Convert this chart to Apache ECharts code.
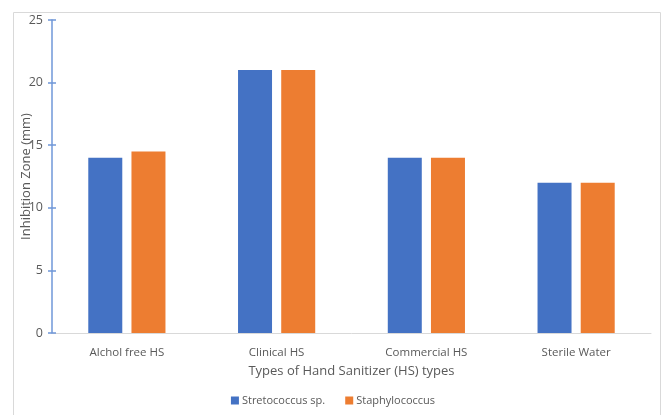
<!DOCTYPE html>
<html>
<head>
<meta charset="utf-8">
<script src="https://cdn.jsdelivr.net/npm/echarts@6/dist/echarts.min.js"></script>
<style>
  html, body { margin: 0; padding: 0; background: #fff; }
  #chart { width: 666px; height: 415px; }
</style>
</head>
<body>
<div id="chart"></div>
<script>
// Hand sanitizer types and measured inhibition zones (mm)
const categories = ['Alchol free HS', 'Clinical HS', 'Commercial HS', 'Sterile Water'];
const streptococcus = [14, 21, 14, 12];
const staphylococcus = [14.5, 21, 14, 12];
const seriesNames = ['Stretococcus sp.', 'Staphylococcus'];

const FONT = '"Open Sans", "Liberation Sans", sans-serif';
const TEXT = '#595959';

const chart = echarts.init(document.getElementById('chart'));
chart.setOption({
  animation: false,
  textStyle: { fontFamily: FONT },
  graphic: [{
    type: 'rect',
    shape: { x: 13.5, y: 12.5, width: 647, height: 420 },
    style: { fill: 'none', stroke: '#d9d9d9', lineWidth: 1 },
    silent: true
  }],
  grid: { left: 52, right: 15, top: 20, bottom: 82 },
  legend: {
    data: seriesNames,
    bottom: 4,
    left: 'center',
    itemWidth: 8,
    itemHeight: 8,
    itemGap: 20,
    icon: 'rect',
    textStyle: { color: TEXT, fontSize: 11, fontFamily: FONT, padding: [0, 0, 0, -2] }
  },
  xAxis: {
    type: 'category',
    data: categories,
    name: 'Types of Hand Sanitizer (HS) types',
    nameLocation: 'middle',
    nameGap: 32,
    nameTextStyle: { color: TEXT, fontSize: 13, fontFamily: FONT },
    axisLine: { lineStyle: { color: '#d9d9d9', width: 1 } },
    axisTick: { show: false },
    axisLabel: { color: TEXT, fontSize: 11.5, margin: 14, fontFamily: FONT }
  },
  yAxis: [{
    type: 'value',
    min: 0,
    max: 25,
    interval: 5,
    name: 'Inhibition Zone (mm)',
    nameLocation: 'middle',
    nameGap: 19,
    nameMoveOverlap: false,
    nameTextStyle: { color: TEXT, fontSize: 13, fontFamily: FONT },
    axisLine: { show: true, lineStyle: { color: '#6f97d8', width: 1.5 } },
    axisTick: { show: true, length: 4, lineStyle: { color: '#6f97d8', width: 1.5 } },
    axisLabel: { color: TEXT, fontSize: 12.5, margin: 9, fontFamily: FONT },
    splitLine: { show: false }
  }, {
    type: 'value',
    min: 0,
    max: 25,
    interval: 5,
    position: 'left',
    axisLine: { show: false },
    axisTick: { show: true, inside: true, length: 4, lineStyle: { color: '#6f97d8', width: 1.5 } },
    axisLabel: { show: false },
    splitLine: { show: false }
  }],
  series: [{
    name: seriesNames[0],
    type: 'bar',
    data: streptococcus,
    barWidth: 34,
    barGap: '27%',
    itemStyle: { color: '#4472c4' }
  }, {
    name: seriesNames[1],
    type: 'bar',
    data: staphylococcus,
    barWidth: 34,
    barGap: '27%',
    itemStyle: { color: '#ed7d31' }
  }]
});
</script>
</body>
</html>
